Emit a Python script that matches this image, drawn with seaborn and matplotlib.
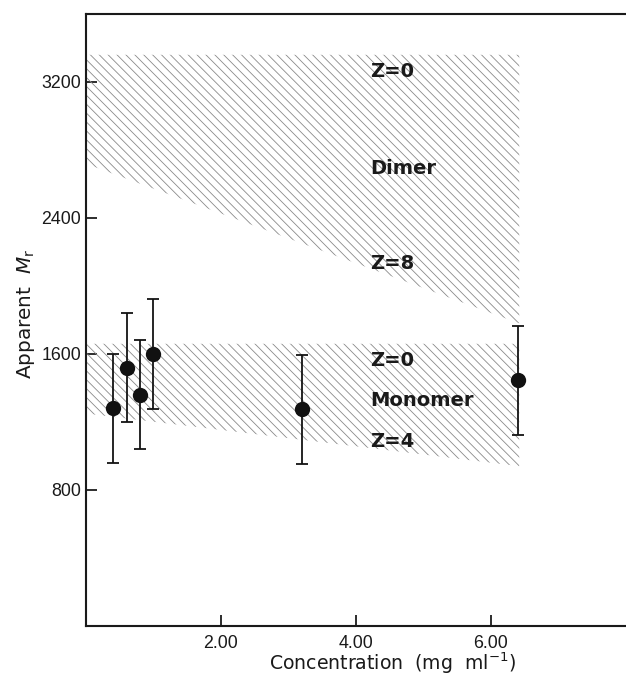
import matplotlib
matplotlib.use("Agg")
import matplotlib.pyplot as plt
import seaborn as sns
import pandas as pd

# measured points (concentration, apparent Mr, error)
conc = [0.40, 0.61, 0.80, 1.00, 3.20, 6.40]
mr = [1280, 1520, 1360, 1600, 1275, 1445]
mr_err = [320, 320, 320, 322, 320, 320]

# shaded theoretical bands
band_x = [0.0, 6.42]
dimer_upper = [3360, 3360]
dimer_lower = [2720, 1780]
monomer_upper = [1660, 1660]
monomer_lower = [1250, 940]

band_labels = ["Z=0", "Dimer", "Z=8", "Z=0", "Monomer", "Z=4"]
band_label_y = [3260, 2690, 2130, 1560, 1325, 1085]
band_label_x = 4.22

x_ticks = [2, 4, 6]
x_ticklabels = ["2.00", "4.00", "6.00"]
y_ticks = [800, 1600, 2400, 3200]

df = pd.DataFrame({"conc": conc, "mr": mr, "err": mr_err})

sns.set_style("ticks")
plt.rcParams["font.family"] = ["DejaVu Sans"]
plt.rcParams["hatch.color"] = "#8a8a8a"
plt.rcParams["hatch.linewidth"] = 0.75

fig = plt.figure(figsize=(626 / 80, 676 / 80), dpi=80)
ax = fig.add_axes([0.1366, 0.074, 0.8634, 0.9053])

# hatched bands
for lo, hi in [(dimer_lower, dimer_upper), (monomer_lower, monomer_upper)]:
    ax.fill_between(band_x, lo, hi, facecolor="none", edgecolor="#8a8a8a",
                    hatch="\\\\\\", linewidth=0, zorder=1)

ax.errorbar(df["conc"], df["mr"], yerr=df["err"], fmt="none", ecolor="#111111",
            elinewidth=1.6, capsize=5.5, capthick=1.6, zorder=2)
sns.scatterplot(data=df, x="conc", y="mr", s=190, color="#111111",
                edgecolor="#111111", linewidth=0, zorder=3, ax=ax, legend=False)

for txt, yv in zip(band_labels, band_label_y):
    ax.text(band_label_x, yv, txt, ha="left", va="center", fontsize=17.5,
            fontweight="bold", color="#1a1a1a", zorder=4)

ax.set_xlim(0, 8)
ax.set_ylim(0, 3600)
ax.set_xticks(x_ticks)
ax.set_xticklabels(x_ticklabels)
ax.set_yticks(y_ticks)
ax.tick_params(direction="in", length=10, width=1.6, colors="#1a1a1a",
               labelsize=16)
ax.tick_params(axis="x", pad=8)
ax.tick_params(axis="y", pad=4)
for lab in ax.get_xticklabels() + ax.get_yticklabels():
    lab.set_family("Liberation Sans")

ax.spines["right"].set_visible(False)
for s in ["left", "top", "bottom"]:
    ax.spines[s].set_linewidth(1.9)
    ax.spines[s].set_color("#1a1a1a")

ax.set_xlabel(r"Concentration  (mg  ml$^{-1}$)", fontsize=17, color="#1a1a1a")
ax.set_ylabel(r"Apparent  $M_{\rm r}$", fontsize=18, color="#1a1a1a")
ax.xaxis.set_label_coords(0.567, -0.04)
ax.yaxis.set_label_coords(-0.09, 0.51)

fig.savefig("out.png", dpi=80, facecolor="white")
